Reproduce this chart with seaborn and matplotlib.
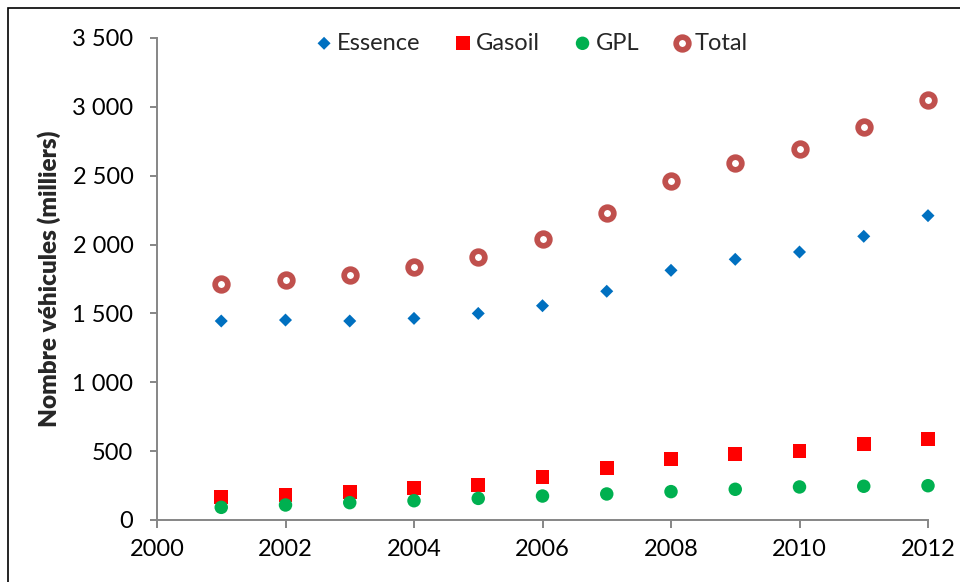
import matplotlib
matplotlib.use("Agg")
import matplotlib.pyplot as plt
import matplotlib.patches as mpatches
from matplotlib.ticker import FuncFormatter
import pandas as pd
import seaborn as sns

# Vehicle fleet by fuel type (thousands of vehicles)
years = [2001, 2002, 2003, 2004, 2005, 2006, 2007, 2008, 2009, 2010, 2011, 2012]
essence = [1445, 1452, 1445, 1464, 1500, 1556, 1661, 1813, 1893, 1946, 2060, 2210]
gasoil = [169, 184, 206, 235, 254, 315, 380, 445, 482, 504, 554, 591]
gpl = [92, 109, 126, 140, 157, 174, 189, 206, 223, 240, 245, 249]
total = [1711, 1743, 1777, 1839, 1907, 2043, 2229, 2464, 2595, 2692, 2856, 3052]

y_ticks = [0, 500, 1000, 1500, 2000, 2500, 3000, 3500]
x_ticks = [2000, 2002, 2004, 2006, 2008, 2010, 2012]

df = pd.DataFrame({"annee": years, "Essence": essence, "Gasoil": gasoil,
                   "GPL": gpl, "Total": total})

sns.set_theme(style="white")
plt.rcParams["font.family"] = ["Lato", "DejaVu Sans"]

fig = plt.figure(figsize=(9.6, 5.82), dpi=100)
ax = fig.add_axes([157 / 960, 62 / 582, 771 / 960, 482 / 582])

sns.scatterplot(data=df, x="annee", y="Essence", ax=ax, marker="D", s=44,
                color="#0070C0", edgecolor="none", label="Essence", clip_on=False, zorder=3)
sns.scatterplot(data=df, x="annee", y="Gasoil", ax=ax, marker="s", s=100,
                color="#FF0000", edgecolor="none", label="Gasoil", clip_on=False, zorder=3)
sns.scatterplot(data=df, x="annee", y="GPL", ax=ax, marker="o", s=94,
                color="#00B050", edgecolor="none", label="GPL", clip_on=False, zorder=3)
sns.scatterplot(data=df, x="annee", y="Total", ax=ax, marker="o", s=83,
                facecolor="white", edgecolor="#C0504D", linewidth=4.1,
                label="Total", clip_on=False, zorder=3)

ax.set_xlim(2000, 2012)
ax.set_ylim(0, 3500)
ax.set_xticks(x_ticks)
ax.set_yticks(y_ticks)
ax.yaxis.set_major_formatter(FuncFormatter(lambda v, p: f"{v:,.0f}".replace(",", " ")))

for side in ("top", "right"):
    ax.spines[side].set_visible(False)
for side in ("left", "bottom"):
    ax.spines[side].set_color("#868686")
    ax.spines[side].set_linewidth(1.4)

ax.tick_params(axis="both", which="major", labelsize=17, colors="#868686",
               labelcolor="black", width=1.4)
ax.tick_params(axis="y", direction="out", length=5, pad=12, left=True)
ax.tick_params(axis="x", direction="out", length=6, pad=8, bottom=True)

ax.set_xlabel("")
ax.set_ylabel("Nombre véhicules (milliers)", fontsize=17.5, fontweight="heavy", labelpad=8)

leg = ax.legend(loc="center", bbox_to_anchor=(530 / 960, 1 - 43 / 582),
                bbox_transform=fig.transFigure, ncol=4, frameon=False,
                fontsize=17, handletextpad=0.05, columnspacing=1.3,
                handlelength=1.0, borderaxespad=0)

# Outer frame of the figure
fig.patches.append(mpatches.Rectangle((8 / 960, -0.05), 1.1, 1 - 8 / 582 + 0.05,
                                      transform=fig.transFigure, fill=False,
                                      edgecolor="black", linewidth=1.2))

fig.savefig("out.png", dpi=100)
